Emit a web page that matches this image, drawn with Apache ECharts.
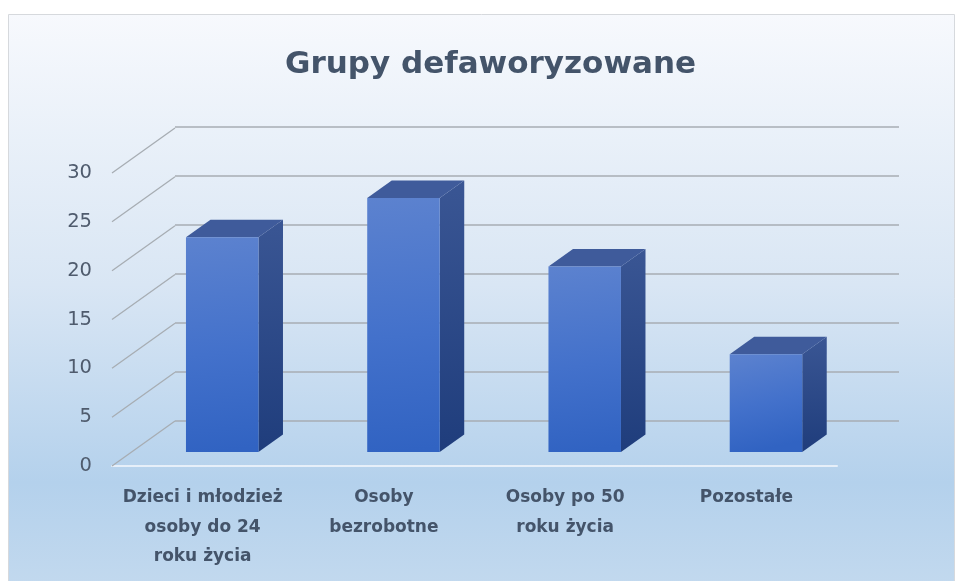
<!DOCTYPE html>
<html><head><meta charset="utf-8">
<script src="https://cdn.jsdelivr.net/npm/echarts@6/dist/echarts.min.js"></script>
<style>html,body{margin:0;padding:0;background:#fff}#c{width:959px;height:581px}</style>
</head><body><div id="c"></div>
<script>
// ---- data ----
const titleText = 'Grupy defaworyzowane';
const categories = ['Dzieci i młodzież\nosoby do 24\nroku życia', 'Osoby\nbezrobotne', 'Osoby po 50\nroku życia', 'Pozostałe'];
const values = [22, 26, 19, 10];
const yTicks = [0, 5, 10, 15, 20, 25, 30];

// ---- 3D (oblique) styling ----
const DX = 63, DY = -45;      // depth of the plot box in pixels
const F1 = 0.311, F2 = 0.70;  // bar front / back as fraction of depth
const BAR_W = 0.40;

const chart = echarts.init(document.getElementById('c'), null, {renderer: 'canvas'});

function renderBar(params, api) {
  const idx = api.value(0), val = api.value(1);
  const top = api.coord([idx, val]);
  const base = api.coord([idx, 0]);
  const bw = api.size([1, 0])[0] * BAR_W;
  const ox = DX * F1, oy = DY * F1;
  const dx = DX * (F2 - F1), dy = DY * (F2 - F1);
  const l = top[0] - bw / 2 + ox, r = l + bw, t = top[1] + oy, b = base[1] + oy;
  return {
    type: 'group',
    children: [
      {type: 'polygon', shape: {points: [[r, t], [r + dx, t + dy], [r + dx, b + dy], [r, b]]},
        style: {fill: {type: 'linear', x: 0, y: 0, x2: 0, y2: 1, colorStops: [{offset: 0, color: '#3a5694'}, {offset: 1, color: '#1f3d7c'}]}}},
      {type: 'polygon', shape: {points: [[l, t], [l + dx, t + dy], [r + dx, t + dy], [r, t]]},
        style: {fill: '#3f5b9b'}},
      {type: 'rect', shape: {x: l, y: t, width: bw, height: b - t},
        style: {fill: {type: 'linear', x: 0, y: 0, x2: 0.3, y2: 1, colorStops: [{offset: 0, color: '#5c82cf'}, {offset: 0.55, color: '#4371cb'}, {offset: 1, color: '#3163c2'}]}}}
    ]
  };
}

function renderDiag(params, api) {
  const p = api.coord([0, api.value(1)]);
  const x0 = p[0] - api.size([1, 0])[0] / 2;
  return {type: 'line', shape: {x1: x0, y1: p[1], x2: x0 + DX, y2: p[1] + DY},
    style: {stroke: '#a7adb3', lineWidth: 1.3}};
}

const option = {
  animation: false,
  graphic: [{
    type: 'rect', z: -10, silent: true,
    shape: {x: 8.5, y: 14.5, width: 946, height: 600},
    style: {stroke: '#d6d9dd', lineWidth: 1,
      fill: {type: 'linear', x: 0, y: 0, x2: 0, y2: 1, colorStops: [
        {offset: 0, color: '#f7f9fd'}, {offset: 0.45, color: '#d9e6f4'}, {offset: 0.78, color: '#b4d1ec'}, {offset: 1, color: '#c6dbef'}]}}
  }],
  title: {
    text: titleText, left: 285, top: 49, padding: 0,
    textStyle: {fontFamily: 'DejaVu Sans', fontWeight: 'bold', fontSize: 31, color: '#44546a'}
  },
  grid: [
    {left: 112, right: 122, top: 173, bottom: 115},
    {left: 175, right: 60, top: 127, bottom: 160}
  ],
  xAxis: [
    {type: 'category', gridIndex: 0, data: categories,
      axisLine: {show: true, lineStyle: {color: '#e6eff9', width: 2}},
      axisTick: {show: false}, splitLine: {show: false},
      axisLabel: {margin: 17, interval: 0, fontFamily: 'DejaVu Sans', fontWeight: 'bold', fontSize: 17, lineHeight: 29.5, color: '#44546a', align: 'center'}},
    {type: 'value', gridIndex: 1, show: false, min: 0, max: 1}
  ],
  yAxis: [
    {type: 'value', gridIndex: 0, min: 0, max: 30, interval: 5,
      axisLine: {show: false}, axisTick: {show: false}, splitLine: {show: false},
      axisLabel: {margin: 20, fontFamily: 'DejaVu Sans', fontSize: 19.5, color: '#4f5b6d', padding: [6, 0, 0, 0]}},
    {type: 'value', gridIndex: 1, min: 0, max: 30, interval: 5,
      axisLine: {show: false}, axisTick: {show: false}, axisLabel: {show: false},
      splitLine: {show: true, lineStyle: {color: '#a7adb3', width: 1.5}}}
  ],
  series: [
    {type: 'custom', name: 'diag', xAxisIndex: 0, yAxisIndex: 0, z: 1, silent: true,
      data: yTicks.map(v => [0, v]), renderItem: renderDiag},
    {type: 'custom', name: 'Grupy', xAxisIndex: 0, yAxisIndex: 0, z: 3,
      data: values.map((v, i) => [i, v]), renderItem: renderBar}
  ]
};
chart.setOption(option);
</script>
</body></html>
